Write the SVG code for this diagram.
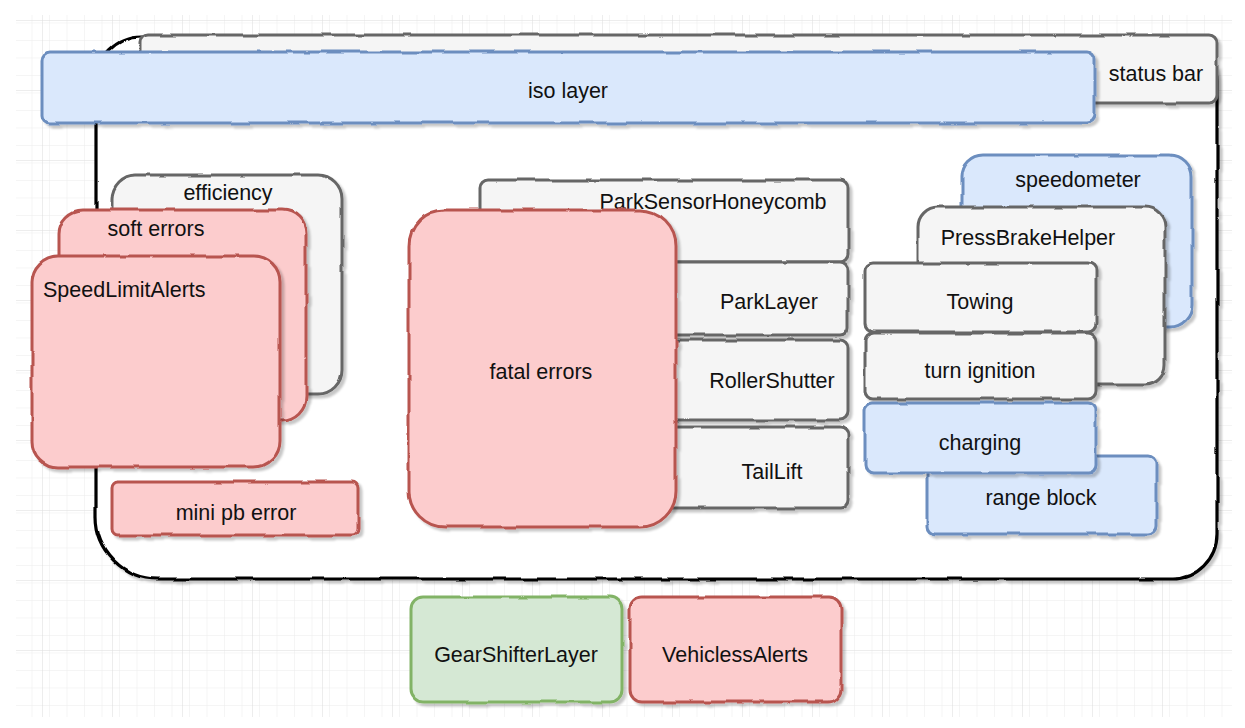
<svg xmlns="http://www.w3.org/2000/svg" width="1245" height="728" viewBox="0 0 1245 728">
  <style>
    .t { font-family: "Liberation Sans", "DejaVu Sans", sans-serif; font-size: 21.5px; fill: #111; text-anchor: middle; dominant-baseline: central; }
    .tl { text-anchor: start; }
    .gray { fill: #f5f5f5; stroke: #666666; stroke-width: 3; }
    .blue { fill: #dae8fc; stroke: #6c8ebf; stroke-width: 3; }
    .red { fill: #fccccd; stroke: #b85450; stroke-width: 3; }
    .green { fill: #d5e8d4; stroke: #82b366; stroke-width: 3; }
    .frame { fill: #ffffff; stroke: #000000; stroke-width: 3.2; }
    .shape { filter: url(#sketch); }
  </style>
  <defs>
    <pattern id="minor" x="42" y="20" width="17.5" height="17.5" patternUnits="userSpaceOnUse">
      <path d="M0 0 H17.5 M0 0 V17.5" fill="none" stroke="#ebebeb" stroke-width="1"/>
    </pattern>
    <pattern id="major" x="42" y="20" width="70" height="70" patternUnits="userSpaceOnUse">
      <rect width="70" height="70" fill="url(#minor)"/>
      <path d="M0 0 H70 M0 0 V70" fill="none" stroke="#dcdcdc" stroke-width="1"/>
    </pattern>
    <filter id="sketch" filterUnits="userSpaceOnUse" x="0" y="0" width="1245" height="728">
      <feTurbulence type="fractalNoise" baseFrequency="0.035" numOctaves="2" seed="4" result="noise"/>
      <feDisplacementMap in="SourceGraphic" in2="noise" scale="3.5" xChannelSelector="R" yChannelSelector="G" result="rough"/>
      <feDropShadow in="rough" dx="3" dy="3" stdDeviation="0.8" flood-color="#000000" flood-opacity="0.22"/>
    </filter>
  </defs>

  <rect x="0" y="0" width="1245" height="728" fill="#ffffff"/>
  <rect x="16" y="15" width="1216" height="702" fill="url(#major)"/>

  <g id="container">
    <path class="frame shape" d="M141 37 H1172 A45 45 0 0 1 1217 82 V534 A45 45 0 0 1 1172 579 H158 A62 62 0 0 1 96 517 V82 A45 45 0 0 1 141 37 Z"/>
  </g>

  <g id="status-bar">
    <rect class="gray shape" x="140" y="35" width="1077" height="68" rx="8"/>
    <text class="t" x="1156" y="74">status bar</text>
  </g>

  <g id="iso-layer">
    <rect class="blue shape" x="42" y="52" width="1053" height="71" rx="8"/>
    <text class="t" x="568" y="91">iso layer</text>
  </g>

  <g id="efficiency">
    <rect class="gray shape" x="112" y="175" width="230" height="219" rx="24"/>
    <text class="t" x="228" y="193">efficiency</text>
  </g>

  <g id="soft-errors">
    <rect class="red shape" x="59" y="210" width="247" height="210" rx="24"/>
    <text class="t" x="156" y="229">soft errors</text>
  </g>

  <g id="speed-limit-alerts">
    <rect class="red shape" x="32" y="256" width="248" height="211" rx="26"/>
    <text class="t tl" x="43" y="290">SpeedLimitAlerts</text>
  </g>

  <g id="mini-pb-error">
    <rect class="red shape" x="112" y="482" width="246" height="53" rx="6"/>
    <text class="t" x="236" y="513">mini pb error</text>
  </g>

  <g id="park-sensor-honeycomb">
    <rect class="gray shape" x="480" y="180" width="368" height="82" rx="8"/>
    <text class="t" x="713" y="202">ParkSensorHoneycomb</text>
  </g>

  <g id="park-layer">
    <rect class="gray shape" x="480" y="262" width="368" height="73" rx="8"/>
    <text class="t" x="769" y="302">ParkLayer</text>
  </g>

  <g id="roller-shutter">
    <rect class="gray shape" x="480" y="340" width="368" height="80" rx="8"/>
    <text class="t" x="772" y="381">RollerShutter</text>
  </g>

  <g id="tail-lift">
    <rect class="gray shape" x="480" y="427" width="368" height="81" rx="8"/>
    <text class="t" x="772" y="472">TailLift</text>
  </g>

  <g id="fatal-errors">
    <rect class="red shape" x="409" y="210" width="267" height="317" rx="36"/>
    <text class="t" x="541" y="372">fatal errors</text>
  </g>

  <g id="speedometer">
    <rect class="blue shape" x="962" y="155" width="230" height="173" rx="22"/>
    <text class="t" x="1078" y="180">speedometer</text>
  </g>

  <g id="press-brake-helper">
    <rect class="gray shape" x="918" y="207" width="247" height="178" rx="20"/>
    <text class="t" x="1028" y="238">PressBrakeHelper</text>
  </g>

  <g id="range-block">
    <rect class="blue shape" x="927" y="456" width="229" height="78" rx="8"/>
    <text class="t" x="1041" y="498">range block</text>
  </g>

  <g id="towing">
    <rect class="gray shape" x="865" y="263" width="231" height="69" rx="8"/>
    <text class="t" x="980" y="302">Towing</text>
  </g>

  <g id="turn-ignition">
    <rect class="gray shape" x="865" y="333" width="231" height="66" rx="8"/>
    <text class="t" x="980" y="371">turn ignition</text>
  </g>

  <g id="charging">
    <rect class="blue shape" x="865" y="403" width="231" height="70" rx="8"/>
    <text class="t" x="980" y="443">charging</text>
  </g>

  <g id="gear-shifter-layer">
    <rect class="green shape" x="411" y="597" width="211" height="105" rx="12"/>
    <text class="t" x="516" y="655">GearShifterLayer</text>
  </g>

  <g id="vehicless-alerts">
    <rect class="red shape" x="630" y="597" width="211" height="105" rx="12"/>
    <text class="t" x="735" y="655">VehiclessAlerts</text>
  </g>

  <g id="connectors"/>
</svg>
